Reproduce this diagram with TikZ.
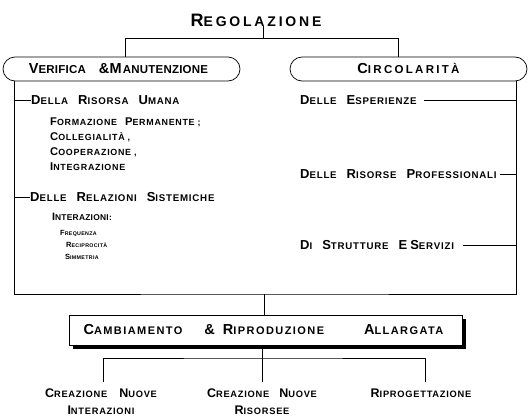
\documentclass[tikz,border=0pt]{standalone}
\usepackage{fontspec}
\setmainfont{Liberation Sans}[BoldFont={Liberation Sans Bold}]
\usetikzlibrary{shadows}
\newcommand{\Lsz}{13pt}
\newcommand{\Ssz}{10pt}
\newcommand{\LSv}{0}
\newcommand{\scw}[2]{{\fontsize{\Lsz}{\Lsz}\selectfont\addfontfeature{LetterSpace=\LSv}#1}{\fontsize{\Ssz}{\Ssz}\selectfont\addfontfeature{LetterSpace=\LSv}#2}}
\newcommand{\setsz}[3]{\renewcommand{\Lsz}{#1}\renewcommand{\Ssz}{#2}\renewcommand{\LSv}{#3}}
\newcommand{\wsp}[1]{\hspace*{#1pt}}
\begin{document}
\begin{tikzpicture}[x=1pt,y=-1pt,
  every node/.style={font=\bfseries, inner sep=0pt},
  pill/.style={draw, rounded corners=12pt, minimum width=237pt, minimum height=24pt, line width=0.7pt, text height=10pt, text depth=0pt},
  cbox/.style={draw, fill=white, minimum width=393pt, minimum height=30pt, line width=0.8pt,
     drop shadow={shadow xshift=3.5pt, shadow yshift=-3.5pt, fill=black, opacity=1}},
  itemA/.style={anchor=west, font={\bfseries\setsz{13pt}{9.7pt}{8}}},
  itemB/.style={anchor=base west, font={\bfseries\setsz{11.2pt}{8.9pt}{8}}},
  itemC/.style={anchor=base west, font={\bfseries\setsz{7.5pt}{5.3pt}{6}}},
  lab/.style={anchor=north, align=center, font={\bfseries\setsz{12.5pt}{9.3pt}{8}}},
  conn/.style={line width=0.7pt}]
\useasboundingbox (0,0) rectangle (531,420);
% title
\node[font={\bfseries\setsz{18pt}{14pt}{20}}] (title) at (256,20) {\scw{R}{EGOLAZIONE}};
% pills
\node[pill, font={\bfseries\setsz{14.5pt}{11.5pt}{2}}] (lp) at (121.5,69) {\scw{V}{ERIFICA}\wsp{13}\scw{\&M}{}\wsp{1}\scw{}{ANUTENZIONE}\hspace*{6pt}};
\node[pill, font={\bfseries\setsz{14.5pt}{11.5pt}{20}}] (rp) at (408.5,69) {\scw{C}{IRCOLARITÀ}};
\coordinate (bar) at (0,38);
\coordinate (tj) at (263,0);
\draw[conn] (title.south -| tj) -- (tj |- bar);
\draw[conn] ([xshift=3.5pt]lp.north) |- ([xshift=-10.5pt]bar -| rp.north) -- ([xshift=-10.5pt]rp.north);
% bracket
\coordinate (brk) at (264,294);
\draw[conn] ([xshift=12pt]lp.south west) |- (brk) -| ([xshift=-11pt]rp.south east);
\coordinate (lx) at (15,0);
\coordinate (rx) at (516,0);
% left items
\node[itemA] (l1) at (31,100) {\scw{D}{ELLA}\wsp{10}\scw{R}{ISORSA}\wsp{10}\scw{U}{MANA}};
\draw[conn] (l1.west -| lx) -- (l1.west);
\node[itemB] (s1) at (50,125.8) {\scw{F}{ORMAZIONE}\wsp{8}\scw{P}{ERMANENTE}\wsp{3}\scw{}{;}};
\node[itemB] (s2) at (50,140.8) {\scw{C}{OLLEGIALITÀ}\wsp{3}\scw{}{,}};
\node[itemB] (s3) at (50,155.8) {\scw{C}{OOPERAZIONE}\wsp{3}\scw{}{,}};
\node[itemB] (s4) at (50,170.8) {\scw{I}{NTEGRAZIONE}};
\node[itemA] (l2) at (30,197) {\scw{D}{ELLE}\wsp{10}\scw{R}{ELAZIONI}\wsp{10}\scw{S}{ISTEMICHE}};
\draw[conn] (l2.west -| lx) -- (l2.west);
\node[itemB, font={\bfseries\setsz{10.7pt}{8.4pt}{3}}] (s5) at (52,220.8) {\scw{I}{NTERAZIONI}\scw{}{:}};
\node[itemC] (t1) at (60,235.5) {\scw{F}{REQUENZA}};
\node[itemC] (t2) at (66,247.5) {\scw{R}{ECIPROCITÀ}};
\node[itemC] (t3) at (65,259.5) {\scw{S}{IMMETRIA}};
% right items
\node[itemA] (r1) at (300,100) {\scw{D}{ELLE}\wsp{10}\scw{E}{SPERIENZE}};
\draw[conn] ([xshift=7pt]r1.east) -- (r1.east -| rx);
\node[itemA] (r2) at (300,174) {\scw{D}{ELLE}\wsp{10}\scw{R}{ISORSE}\wsp{10}\scw{P}{ROFESSIONALI}};
\draw[conn] ([xshift=3pt]r2.east) -- (r2.east -| rx);
\node[itemA] (r3) at (300,245) {\scw{D}{I}\wsp{10}\scw{S}{TRUTTURE}\wsp{10}\scw{E}{}\wsp{3}\scw{S}{ERVIZI}};
\draw[conn] ([xshift=9pt]r3.east) -- (r3.east -| rx);
% bottom box
\node[cbox, font={\bfseries\setsz{14.5pt}{11pt}{13}}] (cb) at (265.5,330) {\scw{C}{AMBIAMENTO}\wsp{22}\scw{\&}{}\wsp{8}\scw{R}{IPRODUZIONE}\wsp{40}\scw{A}{LLARGATA}\hspace*{4pt}};
\draw[conn] (brk) -- (brk |- cb.north);
\coordinate (lb) at (262,358);
\node[lab] (c1) at (101,388.5) {\scw{C}{REAZIONE}\wsp{12}\scw{N}{UOVE}\\[5pt]\scw{I}{NTERAZIONI}};
\node[lab] (c2) at (262,388.5) {\scw{C}{REAZIONE}\wsp{10}\scw{N}{UOVE}\\[5pt]\scw{R}{ISORSEE}};
\node[lab] (c3) at (421,388.5) {\scw{R}{IPROGETTAZIONE}};
\draw[conn] (cb.south -| lb) -- (lb);
\draw[conn] ([xshift=2pt,yshift=6.5pt]c1.north) |- (lb) -| ([xshift=4pt,yshift=6.5pt]c3.north);
\draw[conn] (lb) -- ([yshift=6.5pt]c2.north);
\end{tikzpicture}
\end{document}
